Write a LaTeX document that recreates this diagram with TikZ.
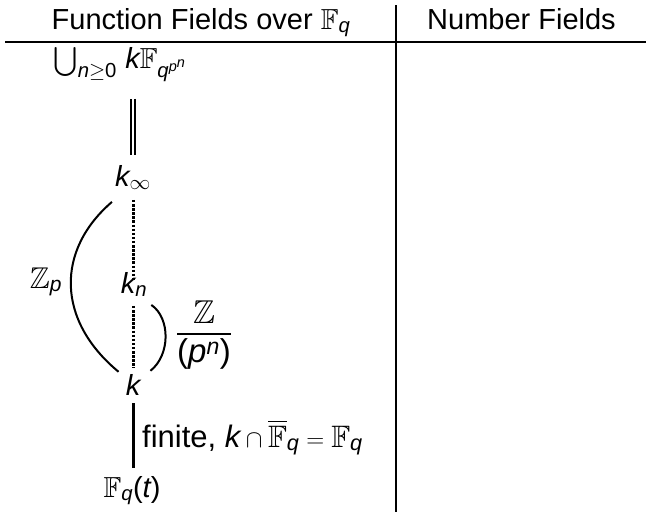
\documentclass[tikz,border=0pt]{standalone}
\usepackage{amsmath,amssymb}
\usepackage{fontspec}
\setmainfont{Liberation Sans}
\newcommand\vv[1]{\textit{#1}}
\newcommand\uu[1]{\textup{#1}}
\tikzset{
  lbl/.style={inner sep=0pt, font=\fontsize{29}{35}\selectfont},
  fld/.style={inner sep=0pt, font=\fontsize{29}{35}\selectfont},
  rule/.style={line width=2pt},
  arcline/.style={line width=2pt},
  dotline/.style={line width=3pt, dash pattern=on 2.5pt off 1.6pt},
  dbl/.style={line width=2pt, double distance=1.4pt},
  ext/.style={line width=3pt}
}
\begin{document}
\begin{tikzpicture}[x=1pt,y=-1pt]
\useasboundingbox (0,0) rectangle (646,512);
% table
\node[lbl, anchor=base] (h1) at (201,29) {Function Fields over $\mathbb{F}_{\vv{q}}$};
\node[lbl, anchor=base] (h2) at (521.5,29) {Number Fields};
\coordinate (hl) at (5,42);
\coordinate (hr) at (646,42);
\coordinate (vt) at (396,5);
\coordinate (vb) at (396,512);
\draw[rule] (hl) -- (hr);
\draw[rule] (vt) -- (vb);
% fields
\node[fld, anchor=base] (top) at (120,68) {$\bigcup_{\vv{n}\geq \uu{0}}\,\vv{k}\mathbb{F}_{\vv{q}^{\vv{p}^{\vv{n}}}}$};
\node[fld, anchor=base] (kinf) at (133,186) {$\vv{k}_\infty$};
\node[fld, anchor=base] (kn) at (134,293) {$\vv{k}_{\vv{n}}$};
\node[fld, anchor=base] (k) at (133,395) {$\vv{k}$};
\node[fld, anchor=base] (Fqt) at (132,497) {$\mathbb{F}_{\vv{q}}\uu{(}\vv{t}\uu{)}$};
% labels
\node[lbl, font=\fontsize{30}{36}\selectfont, anchor=base] (Zp) at (46,288) {$\mathbb{Z}_{\vv{p}}$};
\node[lbl, font=\fontsize{33}{40}\selectfont] (fr) at (204,335) {$\dfrac{\mathbb{Z}}{\uu{(}\vv{p}^{\vv{n}}\uu{)}}$};
\node[lbl, font=\fontsize{31}{37}\selectfont, anchor=base west] (fin) at (142,447) {finite, $\vv{k}\cap\overline{\mathbb{F}}_{\vv{q}}=\mathbb{F}_{\vv{q}}$};
% connectors
\draw[dbl] ([yshift=66pt]kinf.north) -- ([yshift=10pt]kinf.north);
\draw[dotline] ([yshift=-10pt]kinf.south) -- ([yshift=-9pt]kinf.south |- kn.north);
\draw[dotline] ([yshift=-9pt]kn.south -| kinf.south) -- ([yshift=6pt]k.north);
\draw[arcline] ([xshift=-3pt,yshift=-12pt]kinf.south west) .. controls (56,250) and (56,320) .. ([xshift=-7pt,yshift=2pt]k.north west);
\draw[arcline] ([xshift=4pt,yshift=-8pt]kn.south east) .. controls (170.5,318) and (170.5,355) .. ([xshift=10pt,yshift=3pt]k.north east);
\draw[ext] ([yshift=-8pt]k.south) -- ([yshift=8pt]k.south |- Fqt.north);
\end{tikzpicture}
\end{document}
